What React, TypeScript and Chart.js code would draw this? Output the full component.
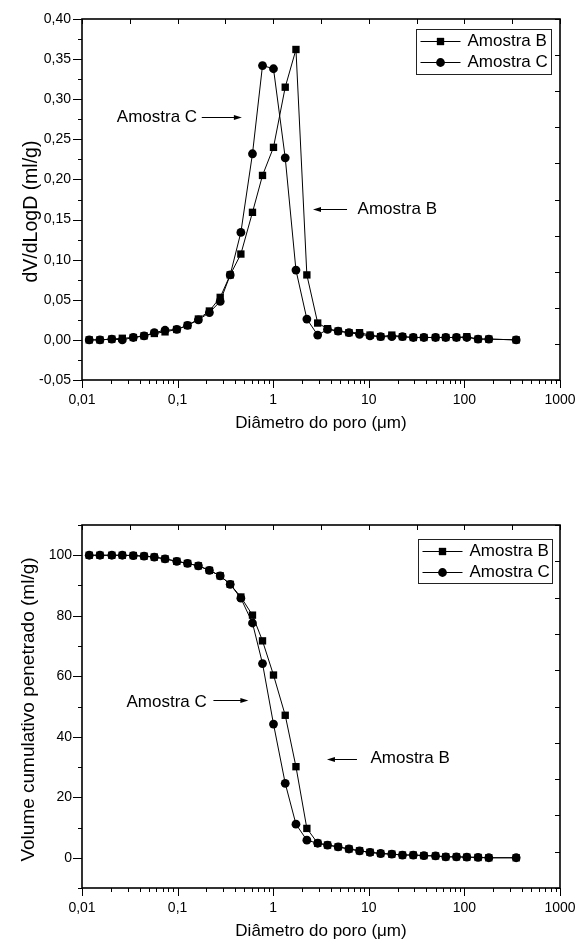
import React, { useEffect, useRef } from 'react';
import { Chart, registerables } from 'chart.js';

Chart.register(...registerables);

// ---------- data ----------
const diameters = [
  0.0119, 0.0154, 0.0205, 0.0264, 0.0344, 0.0446, 0.0571, 0.0739, 0.098, 0.127,
  0.165, 0.215, 0.279, 0.355, 0.459, 0.607, 0.773, 1.007, 1.336, 1.73,
  2.25, 2.92, 3.7, 4.78, 6.2, 8.0, 10.3, 13.3, 17.4, 22.5,
  29.2, 37.7, 49.9, 63.8, 82.6, 106, 139, 180, 348,
];

const dvB = [
  0.0, 0.0, 0.001, 0.002, 0.003, 0.005, 0.008, 0.01, 0.013, 0.018,
  0.026, 0.036, 0.053, 0.081, 0.107, 0.159, 0.205, 0.24, 0.315, 0.362,
  0.081, 0.021, 0.014, 0.011, 0.009, 0.009, 0.006, 0.004, 0.006, 0.004,
  0.003, 0.003, 0.003, 0.003, 0.003, 0.004, 0.001, 0.001, 0.0,
];

const dvC = [
  0.0, 0.0, 0.001, 0.0, 0.003, 0.005, 0.009, 0.012, 0.013, 0.018,
  0.025, 0.034, 0.048, 0.081, 0.134, 0.232, 0.342, 0.338, 0.227, 0.087,
  0.026, 0.006, 0.013, 0.011, 0.009, 0.007, 0.005, 0.004, 0.004, 0.004,
  0.003, 0.003, 0.003, 0.003, 0.003, 0.003, 0.001, 0.001, 0.0,
];

const cumB = [
  100, 100, 100, 100, 99.9, 99.7, 99.4, 98.8, 98.0, 97.3,
  96.5, 95.0, 93.2, 90.4, 86.2, 80.2, 71.7, 60.4, 47.1, 30.1,
  9.7, 4.8, 4.2, 3.6, 2.9, 2.3, 1.8, 1.4, 1.2, 0.9,
  0.9, 0.7, 0.6, 0.3, 0.3, 0.2, 0.1, 0.0, 0.0,
];

const cumC = [
  100, 100, 100, 100, 99.9, 99.7, 99.4, 98.8, 98.0, 97.3,
  96.5, 95.0, 93.2, 90.4, 85.8, 77.6, 64.2, 44.2, 24.6, 11.1,
  5.8, 4.8, 4.2, 3.6, 2.9, 2.3, 1.8, 1.4, 1.2, 0.9,
  0.9, 0.7, 0.6, 0.3, 0.3, 0.2, 0.1, 0.0, 0.0,
];

const seriesNames = ['Amostra B', 'Amostra C'];

// ---------- axes / ticks ----------
const xMajorTicks = [0.01, 0.1, 1, 10, 100, 1000];
const xMajorLabels = ['0,01', '0,1', '1', '10', '100', '1000'];
const xTopTicks = [0.01, 0.0316, 0.1, 0.316, 1, 3.16, 10, 31.6, 100, 316, 1000];
const minorMultipliers = [2, 3, 4, 5, 6, 7, 8, 9];
const xTitle = 'Diâmetro do poro (μm)';

const topYTicks = [-0.05, 0, 0.05, 0.1, 0.15, 0.2, 0.25, 0.3, 0.35, 0.4];
const topYMinor = [-0.025, 0.025, 0.075, 0.125, 0.175, 0.225, 0.275, 0.325, 0.375];
const topYRight = [-0.05, -0.005, 0.04, 0.085, 0.13, 0.175, 0.22, 0.265, 0.31, 0.355, 0.4];
const topYTitle = 'dV/dLogD (ml/g)';

const botYTicks = [0, 20, 40, 60, 80, 100];
const botYMinor = [-10, 10, 30, 50, 70, 90, 110];
const botYRight = [-10, 2, 14, 26, 38, 50, 62, 74, 86, 98, 110];
const botYTitle = 'Volume cumulativo penetrado (ml/g)';

// annotations in data coordinates: text anchor, arrow tail, arrow head
const topAnnotations = [
  { text: 'Amostra C', tx: 0.16, ty: 0.277, align: 'right', ax1: 0.179, ax2: 0.47, ay: 0.278 },
  { text: 'Amostra B', tx: 7.64, ty: 0.163, align: 'left', ax1: 5.92, ax2: 2.61, ay: 0.163 },
];
const botAnnotations = [
  { text: 'Amostra C', tx: 0.202, ty: 51.5, align: 'right', ax1: 0.237, ax2: 0.55, ay: 52.1 },
  { text: 'Amostra B', tx: 10.4, ty: 32.8, align: 'left', ax1: 7.52, ax2: 3.65, ay: 32.8 },
];

const FONT = "'Liberation Sans', Arial, Helvetica, sans-serif";

const fmtComma = (v: number) => v.toFixed(2).replace('.', ',');

const framePlugin = {
  id: 'frameDeco',
  afterDraw(chart: any, _args: any, opts: any) {
    const { ctx, chartArea: a, scales } = chart;
    const xs = scales.x;
    const ys = scales.y;
    ctx.save();
    ctx.strokeStyle = '#000';
    ctx.fillStyle = '#000';

    // ticks
    ctx.lineWidth = 1;
    ctx.beginPath();
    for (const v of xMajorTicks) {
      const px = Math.round(xs.getPixelForValue(v)) + 0.5;
      ctx.moveTo(px, a.bottom);
      ctx.lineTo(px, a.bottom + 8);
    }
    for (let i = 0; i < xMajorTicks.length - 1; i++) {
      for (const m of minorMultipliers) {
        const px = Math.round(xs.getPixelForValue(xMajorTicks[i] * m)) + 0.5;
        ctx.moveTo(px, a.bottom);
        ctx.lineTo(px, a.bottom + 4);
      }
    }
    for (const v of xTopTicks) {
      const px = Math.round(xs.getPixelForValue(v)) + 0.5;
      ctx.moveTo(px, a.top);
      ctx.lineTo(px, a.top + 5);
    }
    for (const v of opts.yMajor) {
      const py = Math.round(ys.getPixelForValue(v)) + 0.5;
      ctx.moveTo(a.left - 9, py);
      ctx.lineTo(a.left, py);
    }
    for (const v of opts.yMinor) {
      const py = Math.round(ys.getPixelForValue(v)) + 0.5;
      ctx.moveTo(a.left - 4, py);
      ctx.lineTo(a.left, py);
    }
    for (const v of opts.yRight) {
      const py = Math.round(ys.getPixelForValue(v)) + 0.5;
      ctx.moveTo(a.right - 5, py);
      ctx.lineTo(a.right, py);
    }
    ctx.stroke();

    // frame
    ctx.lineWidth = 1.6;
    ctx.strokeRect(a.left, a.top, a.right - a.left, a.bottom - a.top);

    // y axis title
    const T = opts.yTitle;
    ctx.save();
    ctx.translate(T.x, ys.getPixelForValue(T.centerValue));
    ctx.rotate(-Math.PI / 2);
    ctx.font = `${T.size}px ${FONT}`;
    ctx.textAlign = 'center';
    ctx.textBaseline = 'middle';
    ctx.fillText(T.text, 0, 0);
    ctx.restore();

    // annotations
    ctx.font = `17px ${FONT}`;
    ctx.textBaseline = 'middle';
    ctx.lineWidth = 1;
    for (const an of opts.annotations) {
      ctx.textAlign = an.align;
      ctx.fillText(an.text, xs.getPixelForValue(an.tx), ys.getPixelForValue(an.ty));
      const x1 = xs.getPixelForValue(an.ax1);
      const x2 = xs.getPixelForValue(an.ax2);
      const y = Math.round(ys.getPixelForValue(an.ay)) + 0.5;
      const dir = x2 > x1 ? 1 : -1;
      ctx.beginPath();
      ctx.moveTo(x1, y);
      ctx.lineTo(x2 - dir * 6, y);
      ctx.stroke();
      ctx.beginPath();
      ctx.moveTo(x2, y);
      ctx.lineTo(x2 - dir * 8, y - 2.5);
      ctx.lineTo(x2 - dir * 8, y + 2.5);
      ctx.closePath();
      ctx.fill();
    }

    // legend box
    const L = opts.legend;
    const bx = a.right - L.right - L.w;
    const by = a.top + L.top;
    ctx.lineWidth = 1;
    ctx.strokeStyle = '#222';
    ctx.strokeRect(Math.round(bx) + 0.5, Math.round(by) + 0.5, L.w, L.h);
    ctx.strokeStyle = '#000';
    chart.data.datasets.forEach((ds: any, i: number) => {
      const ry = Math.round(by + L.row0 + i * L.rowGap) + 0.5;
      ctx.beginPath();
      ctx.moveTo(bx + 5, ry);
      ctx.lineTo(bx + 45, ry);
      ctx.stroke();
      const mx = bx + 25;
      ctx.beginPath();
      if (ds.pointStyle === 'rect') {
        const s = ds.pointRadius * Math.SQRT1_2;
        ctx.rect(mx - s, ry - s, 2 * s, 2 * s);
      } else {
        ctx.arc(mx, ry, ds.pointRadius, 0, Math.PI * 2);
      }
      ctx.fill();
      ctx.textAlign = 'left';
      ctx.fillText(ds.label, bx + 52, ry);
    });

    ctx.restore();
  },
};

function buildConfig(p: {
  b: number[];
  c: number[];
  yMin: number;
  yMax: number;
  yTicks: number[];
  yFmt: (v: number) => string;
  yMinor: number[];
  yRight: number[];
  yTitle: any;
  yLabelPad: number;
  padTop: number;
  xAxisHeight: number;
  xLabelPad: number;
  xTitlePad: number;
  annotations: any[];
  legend: any;
}) {
  const datasets = [
    {
      label: seriesNames[0],
      data: diameters.map((d, i) => ({ x: d, y: p.b[i] })),
      borderColor: '#000',
      backgroundColor: '#000',
      borderWidth: 1,
      pointStyle: 'rect',
      pointRadius: 5.2,
      pointBorderWidth: 0,
      pointBackgroundColor: '#000',
      tension: 0,
      order: 1,
    },
    {
      label: seriesNames[1],
      data: diameters.map((d, i) => ({ x: d, y: p.c[i] })),
      borderColor: '#000',
      backgroundColor: '#000',
      borderWidth: 1,
      pointStyle: 'circle',
      pointRadius: 4.4,
      pointBorderWidth: 0,
      pointBackgroundColor: '#000',
      tension: 0,
      order: 0,
    },
  ];
  return {
    type: 'line',
    data: { datasets },
    plugins: [framePlugin],
    options: {
      responsive: false,
      animation: false,
      devicePixelRatio: 1,
      layout: { padding: { left: 0, right: 19, top: p.padTop, bottom: 0 } },
      plugins: {
        legend: { display: false },
        tooltip: { enabled: false },
        frameDeco: {
          yMajor: p.yTicks,
          yMinor: p.yMinor,
          yRight: p.yRight,
          yTitle: p.yTitle,
          annotations: p.annotations,
          legend: p.legend,
        },
      },
      scales: {
        x: {
          type: 'logarithmic',
          position: 'bottom',
          min: 0.01,
          max: 1000,
          grid: { display: false, drawTicks: false },
          border: { display: false },
          afterBuildTicks: (s: any) => {
            s.ticks = xMajorTicks.map((v) => ({ value: v, major: true }));
          },
          afterFit: (s: any) => {
            s.height = p.xAxisHeight;
            s.paddingLeft = 0;
            s.paddingRight = 0;
          },
          ticks: {
            autoSkip: false,
            maxRotation: 0,
            padding: p.xLabelPad,
            color: '#000',
            font: { family: FONT, size: 14 },
            callback: (v: any) => {
              const i = xMajorTicks.findIndex((t) => Math.abs(t - Number(v)) / t < 1e-6);
              return i >= 0 ? xMajorLabels[i] : '';
            },
          },
          title: {
            display: true,
            text: xTitle,
            color: '#000',
            font: { family: FONT, size: 17 },
            padding: { top: 0, bottom: p.xTitlePad },
          },
        },
        y: {
          type: 'linear',
          position: 'left',
          min: p.yMin,
          max: p.yMax,
          grid: { display: false, drawTicks: false },
          border: { display: false },
          afterBuildTicks: (s: any) => {
            s.ticks = p.yTicks.map((v) => ({ value: v }));
          },
          afterFit: (s: any) => {
            s.width = 82;
            s.paddingTop = 0;
            s.paddingBottom = 0;
          },
          ticks: {
            padding: p.yLabelPad,
            color: '#000',
            font: { family: FONT, size: 14 },
            callback: (v: any) => p.yFmt(Number(v)),
          },
          title: { display: false },
        },
      },
    },
  };
}

function ChartCanvas({ config, width, height, top }: { config: any; width: number; height: number; top: number }) {
  const ref = useRef<HTMLCanvasElement | null>(null);
  useEffect(() => {
    if (!ref.current) return;
    const chart = new Chart(ref.current, config);
    return () => chart.destroy();
  }, []);
  return (
    <canvas
      ref={ref}
      width={width}
      height={height}
      style={{ position: 'absolute', left: 0, top, width, height, display: 'block' }}
    />
  );
}

export default function App() {
  const topConfig = buildConfig({
    b: dvB,
    c: dvC,
    yMin: -0.05,
    yMax: 0.4,
    yTicks: topYTicks,
    yFmt: fmtComma,
    yMinor: topYMinor,
    yRight: topYRight,
    yTitle: { text: topYTitle, x: 31.5, centerValue: 0.16, size: 19.5 },
    yLabelPad: 11,
    padTop: 19,
    xAxisHeight: 80,
    xLabelPad: 12,
    xTitlePad: 26,
    annotations: topAnnotations,
    legend: { right: 9.5, top: 9.5, w: 135, h: 45, row0: 12.5, rowGap: 21 },
  });
  const botConfig = buildConfig({
    b: cumB,
    c: cumC,
    yMin: -10,
    yMax: 110,
    yTicks: botYTicks,
    yFmt: (v: number) => String(v),
    yMinor: botYMinor,
    yRight: botYRight,
    yTitle: { text: botYTitle, x: 29, centerValue: 49, size: 19 },
    yLabelPad: 10,
    padTop: 65,
    xAxisHeight: 57,
    xLabelPad: 12,
    xTitlePad: 3,
    annotations: botAnnotations,
    legend: { right: 8.5, top: 14, w: 134, h: 44, row0: 12, rowGap: 20.7 },
  });
  return (
    <div style={{ position: 'absolute', left: 0, top: 0, width: 579, height: 945, background: '#fff' }}>
      <ChartCanvas config={topConfig} width={579} height={460} top={0} />
      <ChartCanvas config={botConfig} width={579} height={485} top={460} />
    </div>
  );
}
